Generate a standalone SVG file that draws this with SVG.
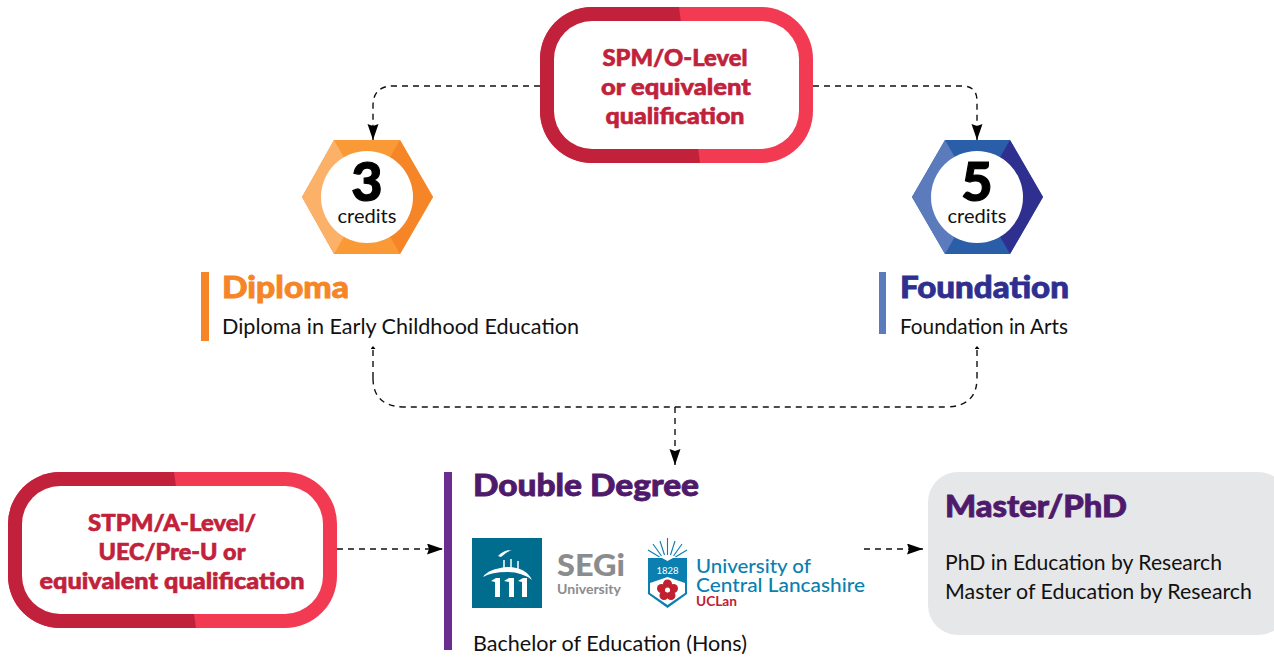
<svg xmlns="http://www.w3.org/2000/svg" width="1274" height="660" viewBox="0 0 1274 660">
<style>
text{font-family:"Lato","Open Sans","Liberation Sans",sans-serif}
.q{font-weight:900;font-size:23px;fill:#c1213a;stroke:#c1213a;stroke-width:.6;text-anchor:middle}
.h{font-weight:900;font-size:30px;stroke-width:.8}
.b{font-size:21px;fill:#111}
.num{font-weight:900;font-size:54px;fill:#000;stroke:#000;stroke-width:1.2;text-anchor:middle}
.cr{font-size:20px;fill:#111;text-anchor:middle}
.c{fill:none;stroke:#111;stroke-width:1.4;stroke-dasharray:6 5}
.lt{fill:#f23a52}.dk{fill:#c1213a}
</style>
<defs>
<marker id="a" markerUnits="userSpaceOnUse" markerWidth="17" markerHeight="12" refX="16" refY="5.500" orient="auto"><path d="M0 0L16 5.500L0 11L2 5.500Z" fill="#000"/></marker>
<marker id="t" markerUnits="userSpaceOnUse" markerWidth="4" markerHeight="6" refX="3" refY="2.500" orient="auto"><path d="M0 0L3 2.500L0 5Z" fill="#000"/></marker>
<clipPath id="c1"><polygon points="530,0 678,0 701,170 530,170"/></clipPath>
<clipPath id="c2"><polygon points="0,465 173,465 197,635 0,635"/></clipPath>
</defs>
<g id="connectors">
<path class="c" d="M540 86H393Q373 86 373 106V140" marker-end="url(#a)"/>
<path class="c" d="M813 86H962Q977 86 977 101V140" marker-end="url(#a)"/>
<path class="c" d="M373 378V346" marker-end="url(#t)"/>
<path class="c" d="M977 378V346" marker-end="url(#t)"/>
<path class="c" d="M373 378Q373 407 405 407H945Q977 407 977 378"/>
<path class="c" d="M675 407V465" marker-end="url(#a)"/>
<path class="c" d="M337 549H443" marker-end="url(#a)"/>
<path class="c" d="M864 549H923" marker-end="url(#a)"/>
</g>
<g id="spm">
<rect class="lt" x="540" y="7" width="273" height="156" rx="52"/>
<rect class="dk" x="540" y="7" width="273" height="156" rx="52" clip-path="url(#c1)"/>
<rect x="554" y="21" width="245" height="128" rx="38" fill="#fff"/>
<text class="q" x="675" y="66" textLength="145" lengthAdjust="spacingAndGlyphs">SPM/O-Level</text>
<text class="q" x="676" y="95" textLength="150" lengthAdjust="spacingAndGlyphs">or equivalent</text>
<text class="q" x="675" y="124" textLength="139" lengthAdjust="spacingAndGlyphs">qualification</text>
</g>
<g id="stpm">
<rect class="lt" x="8" y="472" width="329" height="156" rx="52"/>
<rect class="dk" x="8" y="472" width="329" height="156" rx="52" clip-path="url(#c2)"/>
<rect x="22" y="486" width="301" height="128" rx="38" fill="#fff"/>
<text class="q" x="172" y="531" textLength="168" lengthAdjust="spacingAndGlyphs">STPM/A-Level/</text>
<text class="q" x="172" y="560" textLength="147" lengthAdjust="spacingAndGlyphs">UEC/Pre-U or</text>
<text class="q" x="172" y="589" textLength="265" lengthAdjust="spacingAndGlyphs">equivalent qualification</text>
</g>
<g id="credits3">
<polygon points="334,140 400,140 433,197 400,254 334,254 302,197" fill="#f99a36"/>
<polygon points="334,140 346,161 346,233 334,254 302,197" fill="#fbb168"/>
<polygon points="400,140 388,161 388,233 400,254 433,197" fill="#f58526"/>
<circle cx="367" cy="197" r="46" fill="#fff"/>
<text class="num" x="367" y="201">3</text>
<text class="cr" x="367" y="223" textLength="59" lengthAdjust="spacingAndGlyphs">credits</text>
</g>
<g id="credits5">
<polygon points="945,140 1010,140 1043,197 1010,254 945,254 912,197" fill="#2a5ea8"/>
<polygon points="945,140 957,161 957,233 945,254 912,197" fill="#5b7bbd"/>
<polygon points="1010,140 998,161 998,233 1010,254 1043,197" fill="#2e2f8f"/>
<circle cx="977" cy="197" r="46" fill="#fff"/>
<text class="num" x="977" y="201">5</text>
<text class="cr" x="977" y="223" textLength="59" lengthAdjust="spacingAndGlyphs">credits</text>
</g>
<g id="diploma">
<rect x="201" y="272" width="8" height="69" fill="#f58526"/>
<text class="h" x="222" y="298" fill="#f58526" stroke="#f58526" textLength="127" lengthAdjust="spacingAndGlyphs">Diploma</text>
<text class="b" x="222" y="334" textLength="357" lengthAdjust="spacingAndGlyphs">Diploma in Early Childhood Education</text>
</g>
<g id="foundation">
<rect x="879" y="272" width="7" height="62" fill="#5b7bbd"/>
<text class="h" x="900" y="298" fill="#2e2f8f" stroke="#2e2f8f" textLength="169" lengthAdjust="spacingAndGlyphs">Foundation</text>
<text class="b" x="900" y="334" textLength="168" lengthAdjust="spacingAndGlyphs">Foundation in Arts</text>
</g>
<g id="double-degree">
<rect x="444" y="472" width="8" height="178" fill="#6b2d90"/>
<text class="h" x="473" y="496" fill="#4f1a6b" stroke="#4f1a6b" textLength="226" lengthAdjust="spacingAndGlyphs">Double Degree</text>
<rect x="472" y="538" width="70" height="70" fill="#006c8e"/>
<path d="M498 556Q504 550 512 550Q506 552 501 557Z" fill="#fff"/>
<path d="M504 560V568M511 559V568M518 561V569" stroke="#fff" stroke-width="1.500" fill="none"/>
<path d="M483 577Q488 569 507 567Q526 567 532 580Q522 572 507 572Q492 572 483 577Z" fill="#fff"/>
<path d="M491 581L496 578H500V597H495V582ZM504 581L509 578H514V597H509V582ZM518 581L523 578H527V597H522V582Z" fill="#fff"/>
<text x="557" y="576" font-size="31" font-weight="900" fill="#8a8c8e" textLength="68" lengthAdjust="spacingAndGlyphs">SEGi</text>
<text x="557" y="594" font-size="14" font-weight="700" fill="#8a8c8e" textLength="64" lengthAdjust="spacingAndGlyphs">University</text>
<path d="M667.500 555V538M664.500 555L660 541M670.500 555L675 541M661.500 556L653 544M673.500 556L682 544M659.500 557L648 550M675.500 557L687 550" stroke="#0a7fb0" stroke-width="1.100" fill="none"/>
<path d="M648 558H662L667.500 561L673 558H687V594L667.500 608L648 594Z" fill="#0a7fb0"/>
<path d="M650 583L667.500 577L685 583V593L667.500 605L650 593Z" fill="#fff"/>
<text x="667.500" y="574" font-size="9.500" fill="#fff" text-anchor="middle">1828</text>
<g fill="#c1202f"><circle cx="667.500" cy="584" r="4.500"/><circle cx="673.500" cy="588.500" r="4.500"/><circle cx="671" cy="595.500" r="4.500"/><circle cx="664" cy="595.500" r="4.500"/><circle cx="661.500" cy="588.500" r="4.500"/></g>
<circle cx="667.500" cy="590" r="2.500" fill="#fff"/>
<text x="696" y="573" font-size="20" font-weight="500" fill="#0a7fb0" textLength="115" lengthAdjust="spacingAndGlyphs">University of</text>
<text x="696" y="592" font-size="20" font-weight="500" fill="#0a7fb0" textLength="169" lengthAdjust="spacingAndGlyphs">Central Lancashire</text>
<text x="696" y="606" font-size="13" font-weight="700" fill="#c1202f" textLength="41" lengthAdjust="spacingAndGlyphs">UCLan</text>
<text class="b" x="473" y="651" textLength="274" lengthAdjust="spacingAndGlyphs">Bachelor of Education (Hons)</text>
</g>
<g id="master">
<rect x="928" y="472" width="360" height="163" rx="30" fill="#e6e7e8"/>
<text class="h" x="945" y="517" fill="#4f1a6b" stroke="#4f1a6b" textLength="182" lengthAdjust="spacingAndGlyphs">Master/PhD</text>
<text class="b" x="945" y="570" textLength="277" lengthAdjust="spacingAndGlyphs">PhD in Education by Research</text>
<text class="b" x="945" y="599" textLength="307" lengthAdjust="spacingAndGlyphs">Master of Education by Research</text>
</g>
</svg>
